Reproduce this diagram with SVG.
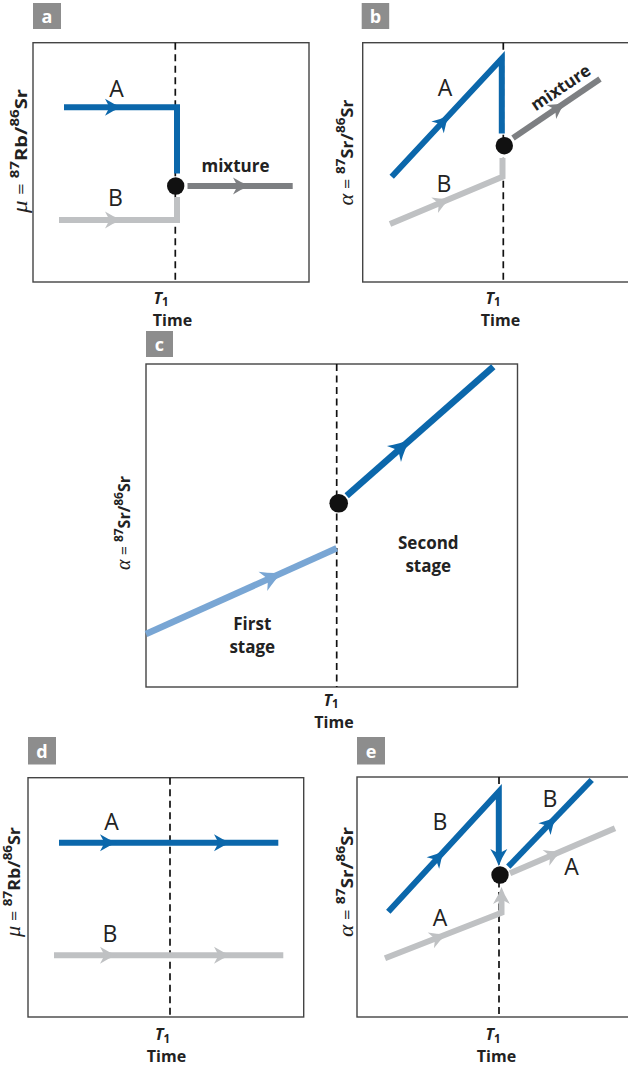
<svg xmlns="http://www.w3.org/2000/svg" xmlns:xlink="http://www.w3.org/1999/xlink" width="628" height="1065" viewBox="0 0 628 1065">
<style>
.frame{fill:none;stroke:#444;stroke-width:1.4}
.dash{fill:none;stroke:#111;stroke-width:1.7;stroke-dasharray:7 4.5}
.tag{fill:#8d8d8d}
.tagt{fill:#fff;font-family:"Open Sans","Liberation Sans",sans-serif;font-weight:bold;font-size:18px;text-anchor:middle}
.ln{fill:none;stroke-width:6;stroke-linejoin:miter;stroke-linecap:butt}
.blue{stroke:#0b67ab}
.gray{stroke:#bfc1c3}
.dgray{stroke:#7d7f82}
.lblue{stroke:#79a6d4}
.lab{font-family:"Open Sans","Liberation Sans",sans-serif;font-size:23px;fill:#222;text-anchor:middle}
.bt{font-family:"Open Sans","Liberation Sans",sans-serif;font-weight:bold;font-size:17px;fill:#222;text-anchor:middle}
.ax{font-family:"Open Sans","Liberation Sans",sans-serif;font-weight:bold;font-size:16px;fill:#222;text-anchor:middle}
.yl{font-family:"Open Sans","Liberation Sans",sans-serif;font-weight:bold;font-size:16px;fill:#222;text-anchor:middle}
.gk{font-family:"Liberation Serif",serif;font-style:italic;font-weight:normal;font-size:20px}
.eq{font-weight:normal}
.sup{font-size:12px}
.it{font-style:italic}
.sub{font-size:11.5px}
.dot{fill:#111}
</style>
<defs>
<path id="ah" d="M9,0 Q1,-2.8 -8,-8.5 L-3.5,0 L-8,8.5 Q1,2.8 9,0 Z"/>
</defs>

<g id="panel-a">
<rect class="tag" x="33" y="3" width="28" height="26"/>
<text class="tagt" x="47" y="23">a</text>
<rect class="frame" x="33" y="42.7" width="276" height="239.3"/>
<line class="dash" x1="175.3" y1="42.7" x2="175.3" y2="282"/>
<text class="yl" transform="translate(27,151) rotate(-90)" textLength="124" lengthAdjust="spacingAndGlyphs"><tspan class="gk">μ</tspan><tspan class="eq"> = </tspan><tspan class="sup" dy="-8">87</tspan><tspan dy="8">Rb/</tspan><tspan class="sup" dy="-8">86</tspan><tspan dy="8">Sr</tspan></text>
<text class="ax"><tspan class="it" x="161" y="303.5">T</tspan><tspan class="sub" dy="2.5">1</tspan><tspan x="172.5" y="326">Time</tspan></text>
</g>

<g id="panel-b">
<rect class="tag" x="361.7" y="3" width="27.5" height="26"/>
<text class="tagt" x="375.5" y="23">b</text>
<rect class="frame" x="362.7" y="42.7" width="280" height="239.3"/>
<line class="dash" x1="503.3" y1="42.7" x2="503.3" y2="282"/>
<text class="yl" transform="translate(353,152.5) rotate(-90)" textLength="106" lengthAdjust="spacingAndGlyphs"><tspan class="gk">α</tspan><tspan class="eq"> = </tspan><tspan class="sup" dy="-8">87</tspan><tspan dy="8">Sr/</tspan><tspan class="sup" dy="-8">86</tspan><tspan dy="8">Sr</tspan></text>
<text class="ax"><tspan class="it" x="493" y="303.5">T</tspan><tspan class="sub" dy="2.5">1</tspan><tspan x="500.5" y="326">Time</tspan></text>
</g>

<g id="panel-c">
<rect class="tag" x="146" y="331" width="27" height="26"/>
<text class="tagt" x="159.5" y="351">c</text>
<rect class="frame" x="146" y="364" width="371.5" height="323"/>
<line class="dash" x1="336.7" y1="364" x2="336.7" y2="687"/>
<text class="yl" transform="translate(130,523) rotate(-90)" textLength="94" lengthAdjust="spacingAndGlyphs"><tspan class="gk">α</tspan><tspan class="eq"> = </tspan><tspan class="sup" dy="-7">87</tspan><tspan dy="7">Sr/</tspan><tspan class="sup" dy="-7">86</tspan><tspan dy="7">Sr</tspan></text>
<text class="ax"><tspan class="it" x="331" y="705.5">T</tspan><tspan class="sub" dy="2.5">1</tspan><tspan x="334" y="727.5">Time</tspan></text>
<text class="bt"><tspan x="252.3" y="630">First</tspan><tspan x="252.3" y="652.5">stage</tspan></text>
<text class="bt"><tspan x="428.3" y="549">Second</tspan><tspan x="428.3" y="571.5">stage</tspan></text>
</g>

<g id="panel-d">
<rect class="tag" x="28" y="737" width="28" height="27.5"/>
<text class="tagt" x="42" y="757.5">d</text>
<rect class="frame" x="28" y="777.7" width="275.7" height="239.3"/>
<line class="dash" x1="170" y1="777.7" x2="170" y2="1017"/>
<text class="yl" transform="translate(20,882) rotate(-90)" textLength="110" lengthAdjust="spacingAndGlyphs"><tspan class="gk">μ</tspan><tspan class="eq"> = </tspan><tspan class="sup" dy="-8">87</tspan><tspan dy="8">Rb/</tspan><tspan class="sup" dy="-8">86</tspan><tspan dy="8">Sr</tspan></text>
<text class="ax"><tspan class="it" x="162.5" y="1040">T</tspan><tspan class="sub" dy="2.5">1</tspan><tspan x="166.5" y="1062">Time</tspan></text>
</g>

<g id="panel-e">
<rect class="tag" x="357" y="737" width="28" height="27.5"/>
<text class="tagt" x="371" y="757.5">e</text>
<rect class="frame" x="357" y="777" width="285" height="240"/>
<line class="dash" x1="499" y1="777" x2="499" y2="1017"/>
<text class="yl" transform="translate(353,882) rotate(-90)" textLength="110" lengthAdjust="spacingAndGlyphs"><tspan class="gk">α</tspan><tspan class="eq"> = </tspan><tspan class="sup" dy="-8">87</tspan><tspan dy="8">Sr/</tspan><tspan class="sup" dy="-8">86</tspan><tspan dy="8">Sr</tspan></text>
<text class="ax"><tspan class="it" x="493" y="1040">T</tspan><tspan class="sub" dy="2.5">1</tspan><tspan x="496.5" y="1062">Time</tspan></text>
</g>

<g id="connectors">
<!-- panel a -->
<polyline class="ln blue" points="64,107.3 177,107.3 177,173.5"/>
<use xlink:href="#ah" href="#ah" fill="#0b67ab" transform="translate(113,107.3)"/>
<polyline class="ln gray" points="59,220 177,220 177,197"/>
<use xlink:href="#ah" href="#ah" fill="#bfc1c3" transform="translate(113,220)"/>
<line class="ln dgray" x1="187.5" y1="186" x2="292.7" y2="186"/>
<use xlink:href="#ah" href="#ah" fill="#7d7f82" transform="translate(241,186)"/>
<circle class="dot" cx="175.7" cy="186" r="8.7"/>
<!-- panel b -->
<polyline class="ln blue" points="391.7,176.7 501.8,58.5 501.8,133.5"/>
<use xlink:href="#ah" href="#ah" fill="#0b67ab" transform="translate(443,121.5) rotate(-47.1)"/>
<polyline class="ln gray" points="390,224 502.5,176.7 502.5,158"/>
<use xlink:href="#ah" href="#ah" fill="#bfc1c3" transform="translate(442,202.1) rotate(-22.9)"/>
<line class="ln dgray" x1="513" y1="138" x2="600" y2="79"/>
<use xlink:href="#ah" href="#ah" fill="#7d7f82" transform="translate(558,107.5) rotate(-34.1)"/>
<circle class="dot" cx="504.3" cy="145.7" r="8.7"/>
<!-- panel c -->
<line class="ln lblue" style="stroke-width:6.5" x1="146" y1="634" x2="336.7" y2="548.3"/>
<use xlink:href="#ah" href="#ah" fill="#79a6d4" transform="translate(272,577.3) rotate(-24.2) scale(1.25)"/>
<line class="ln blue" style="stroke-width:6.5" x1="346.7" y1="495.7" x2="493.3" y2="366.7"/>
<use xlink:href="#ah" href="#ah" fill="#0b67ab" transform="translate(401.5,447.3) rotate(-41.3) scale(1.25)"/>
<circle class="dot" cx="338.7" cy="503.3" r="9.3"/>
<!-- panel d -->
<line class="ln blue" x1="59" y1="842.7" x2="278.3" y2="842.7"/>
<use xlink:href="#ah" href="#ah" fill="#0b67ab" transform="translate(108,842.7)"/>
<use xlink:href="#ah" href="#ah" fill="#0b67ab" transform="translate(222,842.7)"/>
<line class="ln gray" x1="54" y1="955.3" x2="283.3" y2="955.3"/>
<use xlink:href="#ah" href="#ah" fill="#bfc1c3" transform="translate(108,955.3)"/>
<use xlink:href="#ah" href="#ah" fill="#bfc1c3" transform="translate(222,955.3)"/>
<!-- panel e -->
<polyline class="ln gray" points="385,958.3 501.5,912.7 501.5,897"/>
<use xlink:href="#ah" href="#ah" fill="#bfc1c3" transform="translate(438.3,937.5) rotate(-21.3)"/>
<use xlink:href="#ah" href="#ah" fill="#bfc1c3" transform="translate(501.5,896) rotate(-90)"/>
<line class="ln gray" x1="510" y1="873.3" x2="615" y2="828.3"/>
<use xlink:href="#ah" href="#ah" fill="#bfc1c3" transform="translate(553.3,854.7) rotate(-23.2)"/>
<polyline class="ln blue" points="388.3,911.7 498.8,791.7 498.8,857"/>
<use xlink:href="#ah" href="#ah" fill="#0b67ab" transform="translate(438.3,857.2) rotate(-47.5)"/>
<use xlink:href="#ah" href="#ah" fill="#0b67ab" transform="translate(498.8,857) rotate(90)"/>
<line class="ln blue" x1="508.3" y1="866.7" x2="591.7" y2="780"/>
<use xlink:href="#ah" href="#ah" fill="#0b67ab" transform="translate(550,823.3) rotate(-46.1)"/>
<circle class="dot" cx="500" cy="875" r="8.7"/>
</g>

<g id="labels">
<text class="lab" x="116.5" y="96.7">A</text>
<text class="lab" x="115.5" y="206">B</text>
<text class="bt" x="235.5" y="171.7">mixture</text>
<text class="lab" x="445" y="96">A</text>
<text class="lab" x="444" y="191.7">B</text>
<text class="bt" transform="translate(564,92.5) rotate(-34.1)">mixture</text>
<text class="lab" x="111.5" y="830">A</text>
<text class="lab" x="110" y="941.7">B</text>
<text class="lab" x="440" y="830">B</text>
<text class="lab" x="550" y="807.3">B</text>
<text class="lab" x="571.5" y="875">A</text>
<text class="lab" x="440" y="926">A</text>
</g>
</svg>
